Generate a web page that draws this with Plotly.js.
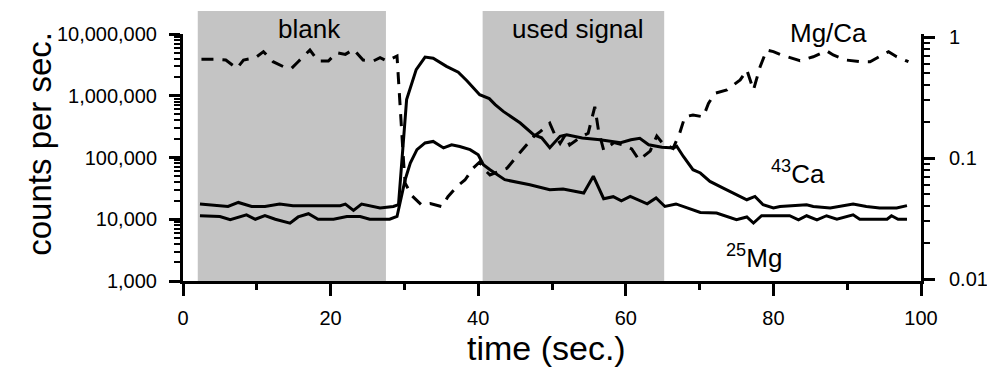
<!DOCTYPE html>
<html>
<head>
<meta charset="utf-8">
<script src="https://cdn.plot.ly/plotly-3.0.1.min.js"></script>
<style>
  html, body { margin: 0; padding: 0; background: #fff; }
  #chart { width: 987px; height: 370px; }
</style>
</head>
<body>
<div id="chart"></div>
<script>
// ---- data ----
var timeCa = [2.3, 6.1, 7.5, 9.3, 11.1, 13.1, 14.9, 21.3, 22.0, 23.1, 24.2, 26.7, 28.5, 29.2,
  30.3, 31.6, 32.8, 33.9, 35.7, 37.3, 38.5, 40.2, 41.5, 42.3, 43.4, 45.7, 47.5, 48.6, 49.7,
  51.1, 52.0, 54.1, 56.5, 59.3, 60.7, 61.9, 63.1, 64.9, 66.5, 66.9, 67.8, 69.1, 70.1, 71.4,
  73.2, 76.4, 77.5, 78.6, 80.0, 80.9, 84.5, 85.4, 87.7, 90.8, 92.6, 94.4, 96.7, 98.1];
var ca43 = [17600, 16100, 18700, 16100, 16100, 17600, 16600, 16600, 17600, 13900, 17600, 15200, 16100, 17200,
  865000, 2650000, 4230000, 4060000, 2990000, 2410000, 1730000, 1040000, 898000, 718000, 558000, 362000, 234000, 209000, 144000,
  220000, 234000, 207000, 194000, 174000, 194000, 204000, 161000, 147000, 143000, 152000, 104000, 63400, 56100, 41000,
  32000, 20700, 23400, 17200, 15200, 16100, 17200, 16100, 15200, 17600, 16100, 15200, 15200, 16600];

var timeMg = [2.3, 5.0, 6.4, 8.6, 9.8, 11.1, 12.5, 14.5, 15.6, 17.0, 18.3, 20.4, 22.2, 24.0, 25.3, 28.0, 29.0,
  30.1, 30.8, 31.7, 32.8, 33.9, 35.3, 36.4, 37.5, 38.9, 40.0, 40.7, 41.6, 43.6, 47.0, 49.7, 51.5,
  54.3, 55.6, 57.0, 58.3, 59.4, 60.6, 62.9, 64.1, 65.3, 66.8, 67.8, 70.1, 72.3, 75.0, 76.4, 77.3,
  78.4, 82.2, 83.4, 84.5, 85.9, 87.2, 88.6, 90.8, 91.7, 95.4, 96.0, 96.9, 98.1];
var mg25 = [11400, 11100, 9800, 11800, 10000, 11500, 10000, 8670, 10900, 12300, 10000, 10000, 11100, 11100, 10000, 10000, 11100,
  43700, 81500, 134000, 172000, 182000, 143000, 161000, 151000, 134000, 111000, 76400, 63400, 43700, 36200, 30100, 30800,
  26600, 49800, 21500, 23200, 19900, 23400, 17800, 22100, 16100, 17700, 16100, 12900, 12600, 9800, 10900, 8670,
  11400, 11400, 9800, 11400, 9800, 11400, 10000, 11800, 10000, 10000, 11400, 10000, 10000];

var timeRatio = [2.5, 4.3, 5.8, 7.3, 8.2, 9.8, 10.9, 12.2, 13.6, 14.7, 15.6, 17.2, 18.3, 19.7, 20.8, 22.0, 23.1,
  24.4, 25.8, 26.7, 27.6, 29.0, 29.9, 30.1, 31.0, 32.3, 33.5, 35.1, 35.9, 37.1, 38.2, 39.3, 40.2,
  40.9, 41.6, 43.9, 45.0, 46.1, 47.5, 48.4, 49.7, 50.4, 51.1, 51.8, 52.4, 53.9, 54.9, 55.8, 56.3,
  57.0, 58.4, 59.7, 60.8, 61.8, 63.3, 64.2, 65.0, 66.4, 67.3, 68.0, 69.1, 70.5, 71.2, 72.1, 73.7,
  75.5, 76.4, 77.3, 78.2, 79.1, 80.0, 81.1, 82.7, 83.6, 85.4, 87.2, 88.1, 89.9, 91.7, 93.1, 95.6, 96.7, 98.3];
var mgCa = [0.655, 0.655, 0.645, 0.551, 0.645, 0.674, 0.757, 0.625, 0.569, 0.551, 0.625, 0.781, 0.634, 0.634, 0.742, 0.719, 0.791,
  0.645, 0.634, 0.674, 0.634, 0.697, 0.091, 0.062, 0.049, 0.041, 0.042, 0.0396, 0.0479, 0.058, 0.0658, 0.0822, 0.0927,
  0.0796, 0.0724, 0.0822, 0.0994, 0.12, 0.150, 0.165, 0.194, 0.155, 0.132, 0.155, 0.128, 0.149, 0.160, 0.265, 0.169,
  0.116, 0.134, 0.128, 0.119, 0.0963, 0.114, 0.152, 0.132, 0.12, 0.160, 0.219, 0.227, 0.219, 0.283, 0.343, 0.365,
  0.442, 0.533, 0.365, 0.569, 0.781, 0.757, 0.710, 0.667, 0.637, 0.687, 0.770, 0.710, 0.645, 0.625, 0.625, 0.757, 0.687, 0.625];

var blankRegion = [2.0, 27.5];
var signalRegion = [40.6, 65.2];

var leftTicks = [1000, 10000, 100000, 1000000, 10000000];
var leftTickText = ['1,000', '10,000', '100,000', '1,000,000', '10,000,000'];
var rightTicks = [0.01, 0.1, 1];
var rightTickText = ['0.01', '0.1', '1'];
var xTicks = [0, 20, 40, 60, 80, 100];

// ---- chart ----
var FONT = 'Liberation Sans, Arial, Helvetica, sans-serif';
var lineStyle = {color: '#000', width: 3};

var traces = [
  {x: timeCa, y: ca43, mode: 'lines', line: lineStyle, yaxis: 'y', name: '43Ca', hoverinfo: 'x+y'},
  {x: timeMg, y: mg25, mode: 'lines', line: lineStyle, yaxis: 'y', name: '25Mg', hoverinfo: 'x+y'},
  {x: timeRatio, y: mgCa, mode: 'lines', line: {color: '#000', width: 3, dash: '12px,9px'}, yaxis: 'y2', name: 'Mg/Ca', hoverinfo: 'x+y'}
];

function region(r) {
  return {type: 'rect', layer: 'below', xref: 'x', yref: 'paper',
    x0: r[0], x1: r[1], y0: 0, y1: 1.093, fillcolor: '#c4c4c4', line: {width: 0}};
}

function label(text, x, y) {
  return {text: text, xref: 'x', yref: 'paper', x: x, y: y, xanchor: 'center', yanchor: 'middle',
    showarrow: false, font: {size: 26, family: FONT, color: '#000'}};
}

var layout = {
  width: 987, height: 370,
  margin: {l: 183, r: 66, t: 34, b: 89},
  paper_bgcolor: '#fff', plot_bgcolor: 'rgba(0,0,0,0)',
  showlegend: false,
  font: {family: FONT, color: '#000', size: 20},
  xaxis: {
    range: [0, 100], tickvals: xTicks, showgrid: false, zeroline: false,
    showline: true, linecolor: '#000', linewidth: 3,
    ticks: 'outside', ticklen: 12, tickwidth: 3, tickcolor: '#000',
    minor: {ticks: 'outside', ticklen: 6, tickwidth: 3, tickcolor: '#000', dtick: 10, showgrid: false},
    tickfont: {size: 20, family: FONT},
    ticklabelstandoff: 5
  },
  yaxis: {
    type: 'log', range: [3, 7], tickvals: leftTicks, ticktext: leftTickText,
    showgrid: false, zeroline: false,
    showline: true, linecolor: '#000', linewidth: 3,
    ticks: 'outside', ticklen: 11, tickwidth: 3, tickcolor: '#000',
    minor: {ticks: 'outside', ticklen: 6, tickwidth: 2, tickcolor: '#000', dtick: 'D1', showgrid: false},
    tickfont: {size: 20, family: FONT},
    ticklabelstandoff: 8
  },
  yaxis2: {
    type: 'log', overlaying: 'y', side: 'right', range: [-2.0165, 0.025],
    tickvals: rightTicks, ticktext: rightTickText,
    showgrid: false, zeroline: false,
    showline: true, linecolor: '#000', linewidth: 3,
    ticks: 'outside', ticklen: 11, tickwidth: 3, tickcolor: '#000',
    minor: {ticks: 'outside', ticklen: 6, tickwidth: 2, tickcolor: '#000', dtick: 'D1', showgrid: false},
    tickfont: {size: 20, family: FONT},
    ticklabelstandoff: 10
  },
  shapes: [region(blankRegion), region(signalRegion)],
  annotations: [
    label('blank', 17.1, 1.02),
    label('used signal', 53.5, 1.02),
    label('Mg/Ca', 87.5, 1.005),
    label('<sup>43</sup>Ca', 83.3, 0.441),
    label('<sup>25</sup>Mg', 77.4, 0.101),
    // axis titles (placed as annotations to match the reference position)
    {text: 'counts per sec.', xref: 'paper', yref: 'paper', x: -0.194, y: 0.555, textangle: -90,
      xanchor: 'center', yanchor: 'middle', showarrow: false, font: {size: 33, family: FONT, color: '#000'}},
    {text: 'time (sec.)', xref: 'paper', yref: 'paper', x: 0.492, y: -0.271,
      xanchor: 'center', yanchor: 'middle', showarrow: false, font: {size: 34, family: FONT, color: '#000'}}
  ]
};

Plotly.newPlot('chart', traces, layout, {staticPlot: true, displayModeBar: false});
</script>
</body>
</html>
